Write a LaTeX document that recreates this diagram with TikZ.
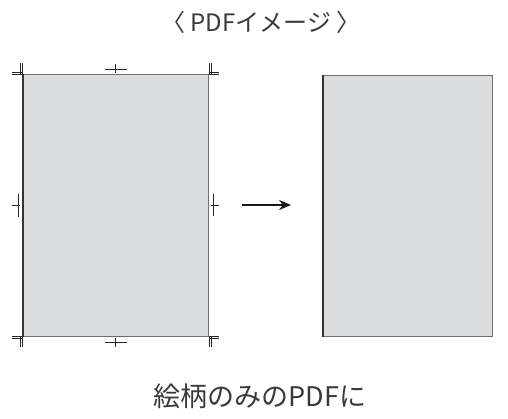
\documentclass[tikz,border=0pt]{standalone}
\usepackage{fontspec}
\usepackage{xcolor}
\usepackage{tikz}
\usetikzlibrary{arrows.meta,positioning}
\newfontfamily\cjk{Noto Sans CJK JP}
\definecolor{paper}{HTML}{DCDDDF}
\definecolor{rim}{HTML}{6E6E6E}
\definecolor{ink}{HTML}{3A3A3A}
\newcommand{\trimmark}[4]{%
  \draw[mark line] ({#1+(#3)*1},#2) -- ++(0,{(#4)*11});
  \draw[mark line] ({#1+(#3)*3},#2) -- ++(0,{(#4)*11});
  \draw[mark line] ({#1+(#3)*1},{#2+(#4)*0}) -- ++({(#3)*10},0);
  \draw[mark line] ({#1+(#3)*1},{#2+(#4)*2}) -- ++({(#3)*10},0);}

\begin{document}
\begin{tikzpicture}[x=1pt,y=-1pt,
  page/.style={draw=rim,fill=paper,line width=1.1pt,anchor=north west,inner sep=0pt},
  mark line/.style={line width=0.7pt,black!85},
  caption/.style={font=\cjk,text=ink}]
  \useasboundingbox (0,0) rectangle (508,418);
  % before: page with trim marks
  \node[page,minimum width=185pt,minimum height=262pt] (trimmed) at (23,74) {};
  \draw[line width=1.1pt,black!80] (trimmed.north west) -- (trimmed.south west);
  \foreach \cx/\cy/\sx/\sy in {23/74/-1/-1, 208/74/1/-1, 23/336/-1/1, 208/336/1/1}
    { \trimmark{\cx}{\cy}{\sx}{\sy} }
  \draw[mark line] (105,69) -- (127,69) (115,64) -- (115,73);
  \draw[mark line] (105,342) -- (127,342) (115,338) -- (115,347);
  \draw[mark line] (12,205) -- (20,205) (18,194) -- (18,217);
  \draw[mark line] (211,205) -- (219,205) (213,194) -- (213,216);
  % after: artwork only
  \node[page,minimum width=169pt,minimum height=261pt] (artwork) at (323,75) {};
  \draw[line width=1.1pt,black!80] (artwork.north west) -- (artwork.south west);
  \coordinate (from) at (242,205);
  \coordinate (to) at (291,205);
  \draw[line width=1.8pt,black!90,-{Stealth[length=12pt,width=10pt]}] (from) -- (to);
  \node[caption,font=\cjk\fontsize{24}{28}\selectfont] (title) at (261,22) {〈 PDFイメージ 〉};
  \node[caption,font=\cjk\fontsize{27}{32}\selectfont] (result) at (260,396) {絵柄のみのPDFに};
\end{tikzpicture}
\end{document}
